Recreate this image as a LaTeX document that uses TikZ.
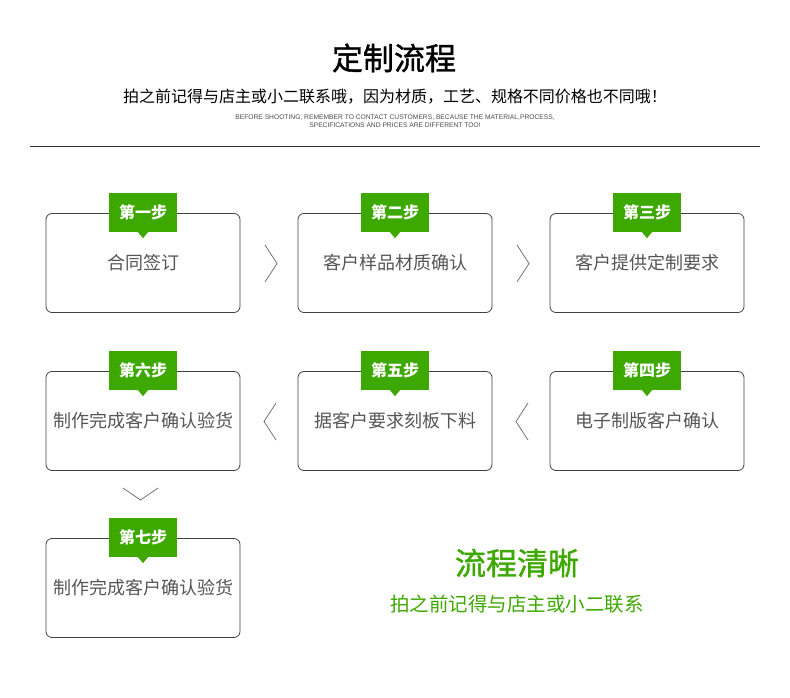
\documentclass[tikz,border=0pt]{standalone}
\usepackage{fontspec}
\setmainfont{Noto Sans CJK SC}
\newfontfamily\engfont{Liberation Sans}
\newfontfamily\medfont[FakeBold=1.2]{Noto Sans CJK SC}
\usetikzlibrary{positioning}
\definecolor{stepgreen}{HTML}{3DA800}
\definecolor{boxtext}{HTML}{555555}
\begin{document}
\begin{tikzpicture}[x=1pt, y=-1pt,
    stepbox/.style={rectangle, rounded corners=6pt, draw=black!75, line width=0.8pt,
        minimum width=194pt, minimum height=99pt, text=boxtext, font=\fontsize{18}{18}\selectfont},
    badge/.style={rectangle, fill=stepgreen, text=white, minimum width=68pt, minimum height=39pt,
        font=\fontsize{16}{16}\selectfont\bfseries},
    pointer/.style={fill=stepgreen},
    chev/.style={draw=black!60, line width=0.7pt}
]
    \useasboundingbox (0,0) rectangle (790,698);
    % header
    \node (title) at (394,58) {\fontsize{31}{31}\medfont 定制流程};
    \node (sub) at (395,97) {\fontsize{16}{16}\selectfont 拍之前记得与店主或小二联系哦，因为材质，工艺、规格不同价格也不同哦！};
    \node[align=center, text=black!70, font=\engfont\fontsize{6.7}{8}\selectfont] (eng) at (395,121)
        {BEFORE SHOOTING, REMEMBER TO CONTACT CUSTOMERS, BECAUSE THE MATERIAL,PROCESS,\\SPECIFICATIONS AND PRICES ARE DIFFERENT TOO!};
    \draw[line width=1pt, black!80] (30,147) -- (760,147);
    % steps
    \foreach \name/\x/\y/\step/\txt in {
        s1/143/263/第一步/合同签订,
        s2/395/263/第二步/客户样品材质确认,
        s3/647/263/第三步/客户提供定制要求,
        s4/647/421/第四步/电子制版客户确认,
        s5/395/421/第五步/据客户要求刻板下料,
        s6/143/421/第六步/制作完成客户确认验货,
        s7/143/588/第七步/制作完成客户确认验货}{
        \node[stepbox] (\name) at (\x,\y) {\txt};
        \node[badge] (\name b) at (\x,\y-50.5) {\step};
        \fill[pointer] ([xshift=-5pt]\name b.south) -- ([xshift=5pt]\name b.south) -- ([yshift=-6pt]\name b.south) -- cycle;
    }
    % chevrons
    \draw[chev] (265,245) -- (277,263.5) -- (265,282);
    \draw[chev] (517,245) -- (529,263.5) -- (517,282);
    \draw[chev] (276,403) -- (264,421.5) -- (276,440);
    \draw[chev] (528,403) -- (516,421.5) -- (528,440);
    \draw[chev] (123,488) -- (140.5,500) -- (158,488);
    % slogan
    \node[text=stepgreen] (slogan) at (517,563) {\fontsize{31}{31}\medfont 流程清晰};
    \node[text=stepgreen] (slogansub) at (517,604) {\fontsize{19.5}{19}\selectfont 拍之前记得与店主或小二联系};
\end{tikzpicture}
\end{document}
